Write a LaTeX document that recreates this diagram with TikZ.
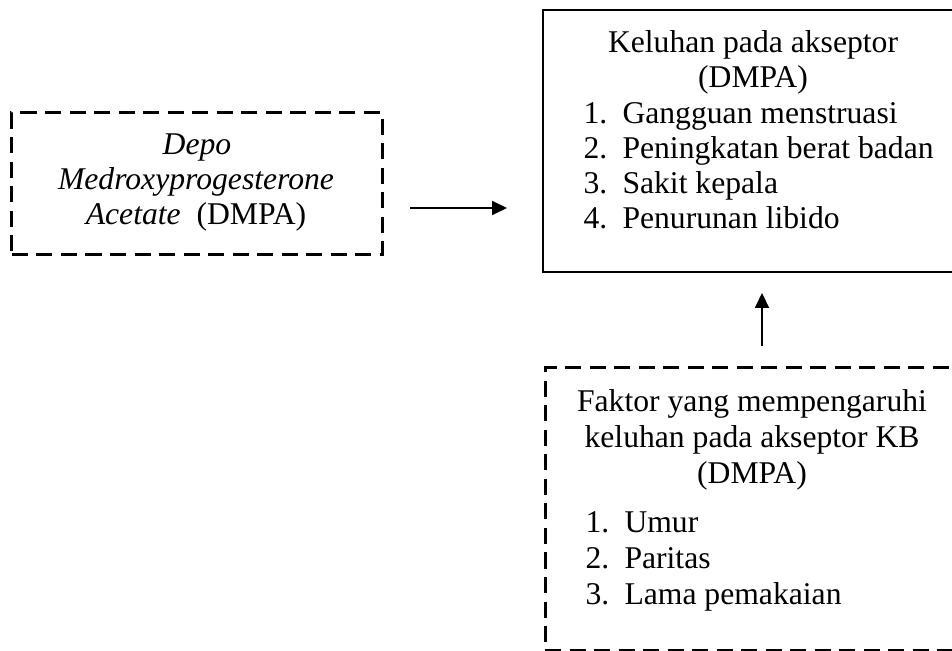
\documentclass[tikz,border=0pt]{standalone}
\usepackage{fontspec}
\setmainfont{Liberation Serif}
\usetikzlibrary{arrows.meta}
\tikzset{
  txt/.style={font=\fontsize{12.66pt}{14.4pt}\selectfont, inner sep=0pt, anchor=base},
  itm/.style={txt, anchor=base west},
  dbox/.style={draw, line width=1.2pt, dash pattern=on 6.4pt off 3.4pt, inner sep=0pt},
  sbox/.style={draw, line width=1.1pt, inner sep=0pt},
  arr/.style={line width=0.8pt, -{Triangle[length=6pt,width=5.6pt]}}
}
\newcommand{\num}[1]{\makebox[15.6pt][l]{#1}}
\begin{document}
\begin{tikzpicture}[x=0.4pt,y=-0.4pt]
\useasboundingbox (0,0) rectangle (952,651);
\clip (0,0) rectangle (952,651);
% boxes
\node[dbox, minimum width=148pt, minimum height=56.8pt] (L) at (197,184) {};
\node[sbox, minimum width=168pt, minimum height=104.8pt] (R) at (753,141) {};
\node[dbox, minimum width=166.4pt, minimum height=112.8pt] (F) at (753,509) {};
% left text
\node[txt] (l1) at (197,155) {\textit{Depo}};
\node[txt] (l2) at (196,190) {\textit{Medroxyprogesterone}};
\node[txt] (l3) at (196,225) {\textit{Acetate}\ \ (DMPA)};
% right top text
\node[txt] (r1) at (753,53) {Keluhan pada akseptor};
\node[txt] (r2) at (753,88) {(DMPA)};
\node[itm] (r3) at (583,124) {\num{1.}Gangguan menstruasi};
\node[itm] (r4) at (583,159) {\num{2.}Peningkatan berat badan};
\node[itm] (r5) at (583,194) {\num{3.}Sakit kepala};
\node[itm] (r6) at (583,229) {\num{4.}Penurunan libido};
% bottom text
\node[txt] (f1) at (752,412) {Faktor yang mempengaruhi};
\node[txt] (f2) at (752,447) {keluhan pada akseptor KB};
\node[txt] (f3) at (752,483) {(DMPA)};
\node[itm] (f4) at (585,532) {\num{1.}Umur};
\node[itm] (f5) at (585,568) {\num{2.}Paritas};
\node[itm] (f6) at (585,604) {\num{3.}Lama pemakaian};
% connectors
\coordinate (a1) at (410,208);
\coordinate (a2) at (507,208);
\coordinate (b1) at (762,346);
\coordinate (b2) at (762,293);
\draw[arr] (a1) -- (a2);
\draw[arr] (b1) -- (b2);
\end{tikzpicture}
\end{document}
